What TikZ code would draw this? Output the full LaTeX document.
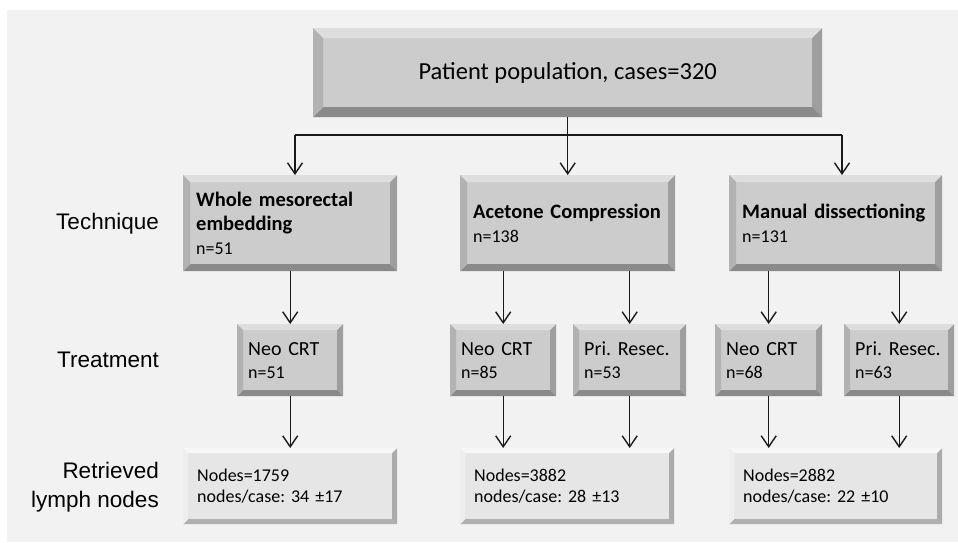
\documentclass[tikz,border=0pt]{standalone}
\usepackage{fontspec}
\setmainfont{Carlito}
\newfontfamily\labelfont{Liberation Sans}
\usetikzlibrary{arrows.meta}
\definecolor{bgc}{HTML}{F2F2F2}
\definecolor{facec}{HTML}{CCCCCC}
\definecolor{topc}{HTML}{DEDEDE}
\definecolor{leftc}{HTML}{B2B2B2}
\definecolor{rightc}{HTML}{9E9E9E}
\definecolor{botc}{HTML}{8A8A8A}
\definecolor{lfacec}{HTML}{E6E6E6}
\definecolor{ltopc}{HTML}{F7F7F7}
\definecolor{lleftc}{HTML}{EEEEEE}
\definecolor{lrightc}{HTML}{ABABAB}
\definecolor{lbotc}{HTML}{B0B0B0}
\definecolor{linec}{HTML}{1A1A1A}
\newcommand{\nfont}{\fontsize{18}{22}\selectfont}
\tikzset{
  bevel/.style n args={6}{fill=#6, path picture={
    \fill[#2] (path picture bounding box.north west) -- (path picture bounding box.north east)
      -- ([shift={(-#1,-#1)}]path picture bounding box.north east)
      -- ([shift={(#1,-#1)}]path picture bounding box.north west) -- cycle;
    \fill[#3] (path picture bounding box.north east) -- (path picture bounding box.south east)
      -- ([shift={(-#1,#1)}]path picture bounding box.south east)
      -- ([shift={(-#1,-#1)}]path picture bounding box.north east) -- cycle;
    \fill[#4] (path picture bounding box.south east) -- (path picture bounding box.south west)
      -- ([shift={(#1,#1)}]path picture bounding box.south west)
      -- ([shift={(-#1,#1)}]path picture bounding box.south east) -- cycle;
    \fill[#5] (path picture bounding box.south west) -- (path picture bounding box.north west)
      -- ([shift={(#1,-#1)}]path picture bounding box.north west)
      -- ([shift={(#1,#1)}]path picture bounding box.south west) -- cycle;
  }},
  darkbox/.style={rectangle, anchor=north west, inner ysep=0pt, bevel={#1}{topc}{rightc}{botc}{leftc}{facec}},
  lightbox/.style={rectangle, anchor=north west, inner ysep=0pt, bevel={#1}{ltopc}{lrightc}{lbotc}{lleftc}{lfacec}},
  techbox/.style={darkbox=7pt, minimum height=96pt, inner xsep=13pt, align=left,
    font=\fontsize{20.5}{24}\selectfont},
  treatbox/.style={darkbox=6pt, minimum height=72pt, inner xsep=11pt, align=left,
    font=\fontsize{20}{23}\selectfont},
  resbox/.style={lightbox=5pt, minimum height=76pt, inner xsep=14pt, align=left,
    font=\fontsize{18}{21}\selectfont},
  rowlabel/.style={anchor=east, align=right, inner sep=0pt,
    font=\labelfont\fontsize{22.5}{29}\selectfont},
  conn/.style={draw=linec, line width=1.4pt},
  arr/.style={conn, -{Straight Barb[length=11pt,width=15pt]}},
}
\begin{document}
\frenchspacing
\begin{tikzpicture}[x=1pt,y=-1pt]
\useasboundingbox (0,0) rectangle (958,542);
\fill[white] (0,0) rectangle (958,542);
\fill[bgc] (7,10) rectangle (958,542);

% top box
\node[darkbox=10pt, minimum width=509pt, minimum height=89pt, align=center,
  font=\fontsize{24.5}{29}\selectfont] (top) at (313,28) {Patient population, cases=320};

% technique boxes
\node[techbox, text width=188pt, minimum width=214pt] (tech1) at (183,175)
  {\textbf{Whole mesorectal}\\\textbf{embedding}\\{\nfont n=51}};
\node[techbox, text width=189pt, minimum width=215pt] (tech2) at (460,175)
  {\textbf{Acetone Compression}\\{\nfont n=138}};
\node[techbox, text width=187pt, minimum width=213pt] (tech3) at (729,175)
  {\textbf{Manual dissectioning}\\{\nfont n=131}};

% treatment boxes
\node[treatbox, text width=84pt, minimum width=106pt] (tr1) at (237,324) {Neo CRT\\{\nfont n=51}};
\node[treatbox, text width=84pt, minimum width=106pt] (tr2) at (450,324) {Neo CRT\\{\nfont n=85}};
\node[treatbox, text width=91pt, minimum width=113pt] (tr3) at (573,324) {Pri. Resec.\\{\nfont n=53}};
\node[treatbox, text width=85pt, minimum width=107pt] (tr4) at (715,324) {Neo CRT\\{\nfont n=68}};
\node[treatbox, text width=88pt, minimum width=110pt] (tr5) at (844,324) {Pri. Resec.\\{\nfont n=63}};

% result boxes
\node[resbox, text width=186pt, minimum width=214pt] (res1) at (183,448)
  {Nodes=1759\\nodes/case: 34 ±17};
\node[resbox, text width=186pt, minimum width=214pt] (res2) at (460,448)
  {Nodes=3882\\nodes/case: 28 ±13};
\node[resbox, text width=185pt, minimum width=213pt] (res3) at (729,448)
  {Nodes=2882\\nodes/case: 22 ±10};

% row labels
\node[rowlabel] (lab1) at (159,224) {Technique};
\node[rowlabel] (lab2) at (159,360) {Treatment};
\node[rowlabel] (lab3) at (159,487) {Retrieved\\lymph nodes};

% connectors: top to techniques
\coordinate (j1) at (295,135);
\coordinate (j3) at (842,135);
\draw[conn] (top.south) -- (top.south |- j1);
\draw[conn] (j1) -- (j3);
\draw[arr] (j1) -- (j1 |- tech1.north);
\draw[arr] (top.south |- j1) -- (top.south |- tech2.north);
\draw[arr] (j3) -- (j3 |- tech3.north);

% techniques to treatments
\draw[arr] (tech1.south -| tr1.north) -- (tr1.north);
\draw[arr] (tech2.south -| tr2.north) -- (tr2.north);
\draw[arr] (tech2.south -| tr3.north) -- (tr3.north);
\draw[arr] (tech3.south -| tr4.north) -- (tr4.north);
\draw[arr] (tech3.south -| tr5.north) -- (tr5.north);

% treatments to results
\draw[arr] (tr1.south) -- (tr1.south |- res1.north);
\draw[arr] (tr2.south) -- (tr2.south |- res2.north);
\draw[arr] (tr3.south) -- (tr3.south |- res2.north);
\draw[arr] (tr4.south) -- (tr4.south |- res3.north);
\draw[arr] (tr5.south) -- (tr5.south |- res3.north);
\end{tikzpicture}
\end{document}
